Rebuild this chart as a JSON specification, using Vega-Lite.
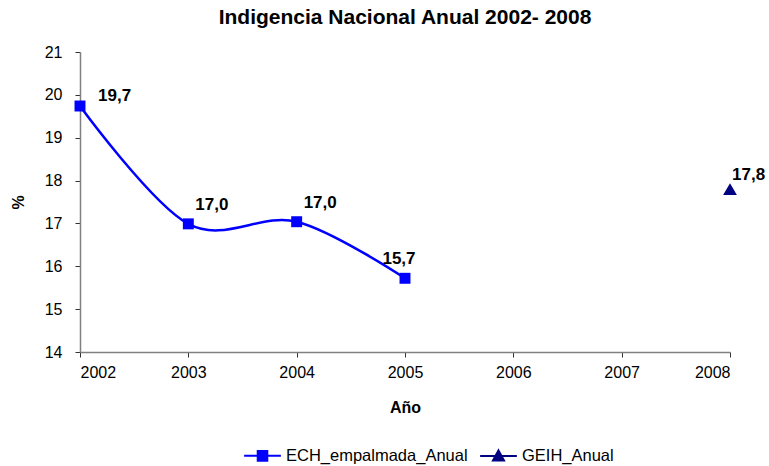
{
  "$schema": "https://vega.github.io/schema/vega-lite/v6.json",
  "width": 650,
  "height": 300,
  "autosize": "none",
  "padding": {"left": 80, "top": 52, "right": 39, "bottom": 114},
  "background": "white",
  "config": {
    "font": "Liberation Sans",
    "view": {"stroke": null},
    "locale": {"number": {"decimal": ",", "thousands": ".", "grouping": [3], "currency": ["$", ""]}}
  },
  "title": {
    "text": "Indigencia Nacional Anual 2002- 2008",
    "fontSize": 21,
    "fontWeight": "bold",
    "color": "black",
    "anchor": "middle",
    "offset": 16
  },
  "data": {
    "values": [
      {"anio": 2002, "valor": 19.74, "serie": "ECH_empalmada_Anual"},
      {"anio": 2003, "valor": 16.99, "serie": "ECH_empalmada_Anual"},
      {"anio": 2004, "valor": 17.04, "serie": "ECH_empalmada_Anual"},
      {"anio": 2005, "valor": 15.72, "serie": "ECH_empalmada_Anual"},
      {"anio": 2008, "valor": 17.8, "serie": "GEIH_Anual"}
    ]
  },
  "encoding": {
    "x": {
      "field": "anio",
      "type": "quantitative",
      "scale": {"domain": [2002, 2008], "nice": false, "zero": false},
      "axis": {
        "title": "Año",
        "values": [2002, 2003, 2004, 2005, 2006, 2007, 2008],
        "format": "d",
        "grid": false,
        "domainColor": "#808080",
        "domainWidth": 1.5,
        "tickColor": "#333333",
        "tickSize": 5,
        "labelFontSize": 16,
        "labelColor": "black",
        "labelPadding": 7,
        "titleFontSize": 16,
        "titleFontWeight": "bold",
        "titleColor": "black",
        "titlePadding": 19
      }
    },
    "y": {
      "field": "valor",
      "type": "quantitative",
      "scale": {"domain": [14, 21], "nice": false, "zero": false},
      "axis": {
        "title": "%",
        "values": [14, 15, 16, 17, 18, 19, 20, 21],
        "grid": false,
        "domainColor": "#808080",
        "domainWidth": 1.5,
        "tickColor": "#333333",
        "tickSize": 5,
        "labelFontSize": 16,
        "labelColor": "black",
        "labelPadding": 13,
        "titleFontSize": 16,
        "titleFontWeight": "bold",
        "titleColor": "black",
        "titleX": -62,
        "titleY": 150,
        "titleBaseline": "middle"
      }
    }
  },
  "layer": [
    {
      "mark": {"type": "line", "interpolate": "cardinal", "tension": 0, "strokeWidth": 2.5},
      "encoding": {
        "color": {
          "field": "serie",
          "type": "nominal",
          "scale": {"domain": ["ECH_empalmada_Anual", "GEIH_Anual"], "range": ["#0000FF", "#000080"]},
          "legend": {
            "title": null,
            "orient": "none",
            "direction": "horizontal",
            "legendX": 163,
            "legendY": 384,
            "labelFontSize": 16.5,
            "labelColor": "black",
            "labelLimit": 400,
            "labelOffset": 4,
            "columnPadding": 8,
            "symbolSize": 1350,
            "symbolStrokeWidth": 2,
            "encode": {
              "symbols": {
                "update": {
                  "shape": {"signal": "datum.value == 'GEIH_Anual' ? 'M-1,0H1M0,-0.3L0.3,0.25H-0.3Z' : 'M-1,0H1M-0.26,-0.26H0.26V0.26H-0.26Z'"},
                  "fill": {"scale": "color", "field": "value"},
                  "stroke": {"scale": "color", "field": "value"},
                  "strokeWidth": {"value": 2},
                  "opacity": {"value": 1},
                  "fillOpacity": {"value": 1}
                }
              }
            }
          }
        }
      }
    },
    {
      "transform": [{"filter": "datum.serie == 'ECH_empalmada_Anual'"}],
      "mark": {"type": "point", "shape": "square", "filled": true, "opacity": 1, "size": 120, "color": "#0000FF"}
    },
    {
      "transform": [{"filter": "datum.serie == 'GEIH_Anual'"}],
      "mark": {"type": "point", "shape": "triangle-up", "filled": true, "opacity": 1, "size": 190, "color": "#000080"}
    },
    {
      "transform": [{"filter": "datum.anio == 2002"}],
      "mark": {"type": "text", "align": "left", "baseline": "middle", "dx": 18, "dy": -10, "fontSize": 17, "fontWeight": "bold", "color": "black"},
      "encoding": {"text": {"field": "valor", "type": "quantitative", "format": ".1f"}}
    },
    {
      "transform": [{"filter": "datum.anio == 2003 || datum.anio == 2004"}],
      "mark": {"type": "text", "align": "left", "baseline": "middle", "dx": 7, "dy": -19, "fontSize": 17, "fontWeight": "bold", "color": "black"},
      "encoding": {"text": {"field": "valor", "type": "quantitative", "format": ".1f"}}
    },
    {
      "transform": [{"filter": "datum.anio == 2005"}],
      "mark": {"type": "text", "align": "center", "baseline": "middle", "dx": -6, "dy": -19, "fontSize": 17, "fontWeight": "bold", "color": "black"},
      "encoding": {"text": {"field": "valor", "type": "quantitative", "format": ".1f"}}
    },
    {
      "transform": [{"filter": "datum.anio == 2008"}],
      "mark": {"type": "text", "align": "left", "baseline": "middle", "dx": 2, "dy": -14, "fontSize": 17, "fontWeight": "bold", "color": "black"},
      "encoding": {"text": {"field": "valor", "type": "quantitative", "format": ".1f"}}
    }
  ]
}
